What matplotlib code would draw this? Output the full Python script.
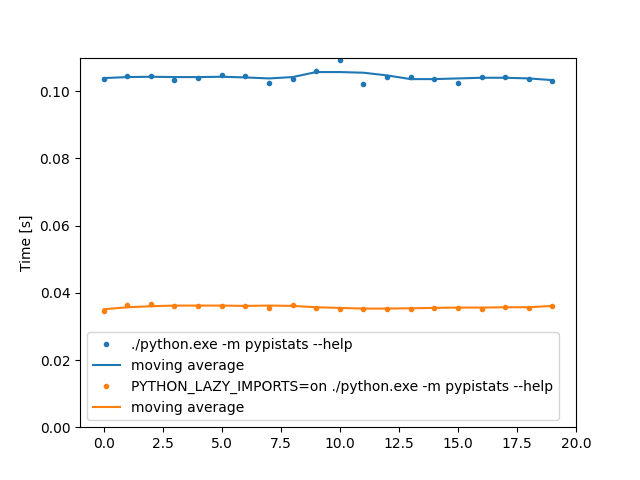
import matplotlib
matplotlib.use("Agg")
import matplotlib.pyplot as plt
import numpy as np

runs = np.arange(20)

# timings (seconds)
baseline = [0.1035, 0.1045, 0.1045, 0.1032, 0.1039, 0.1047, 0.1045, 0.1024, 0.1036, 0.1061,
            0.1093, 0.1020, 0.1041, 0.1041, 0.1035, 0.1023, 0.1043, 0.1043, 0.1035, 0.1029]
baseline_avg = [0.1039, 0.1042, 0.1043, 0.1042, 0.1042, 0.1043, 0.1041, 0.1038, 0.1042, 0.1057,
                0.1057, 0.1055, 0.1047, 0.1036, 0.1036, 0.1038, 0.1040, 0.1040, 0.1038, 0.1033]
lazy = [0.0347, 0.0364, 0.0368, 0.0361, 0.0361, 0.0361, 0.0361, 0.0355, 0.0364, 0.0355,
        0.0353, 0.0353, 0.0353, 0.0352, 0.0355, 0.0355, 0.0352, 0.0357, 0.0355, 0.0361]
lazy_avg = [0.0351, 0.0357, 0.0360, 0.0362, 0.0362, 0.0362, 0.0361, 0.0362, 0.0361, 0.0357,
            0.0355, 0.0353, 0.0353, 0.0354, 0.0355, 0.0356, 0.0356, 0.0357, 0.0357, 0.0361]

labels = ["./python.exe -m pypistats --help",
          "PYTHON_LAZY_IMPORTS=on ./python.exe -m pypistats --help"]

fig, ax = plt.subplots(figsize=(6.4, 4.8), dpi=100)

for series, avg, label, color in [(baseline, baseline_avg, labels[0], "C0"),
                                  (lazy, lazy_avg, labels[1], "C1")]:
    ax.plot(runs, series, ".", color=color, label=label, markersize=6)
    ax.plot(runs, avg, "-", color=color, label="moving average")

ax.set_xlim(-1, 20)
ax.set_ylim(0, 0.11)
ax.set_ylabel("Time [s]")
ax.legend(loc="lower left")

fig.savefig("out.png")
